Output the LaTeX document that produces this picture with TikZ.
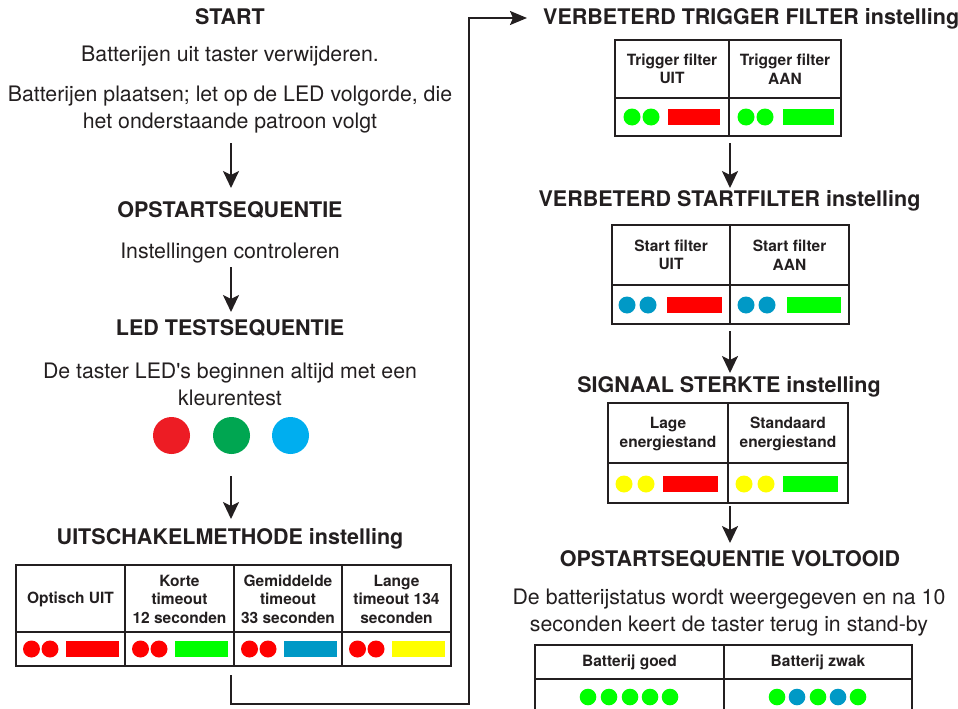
\documentclass[tikz,border=0pt]{standalone}
\usepackage{fontspec}
\setmainfont{TeX Gyre Heros}
\usetikzlibrary{arrows.meta}

\definecolor{ink}{HTML}{231F20}
\definecolor{ledred}{HTML}{FF0000}
\definecolor{ledgreen}{HTML}{00FF00}
\definecolor{ledblue}{HTML}{0099C6}
\definecolor{ledyellow}{HTML}{FFFF00}
\definecolor{testred}{HTML}{ED1C24}
\definecolor{testgreen}{HTML}{00A651}
\definecolor{testblue}{HTML}{00AEEF}

% straight apostrophe, set as a glyph so the TeX quote mapping leaves it alone
\newcommand\straightquote{\XeTeXglyph\XeTeXcharglyph"0027\relax}

% two LED dots followed by a bar: dot1 x, dot2 x, row y, dot colour, bar left, bar right, bar colour
\newcommand\ledcell[7]{%
  \fill[#4] (#1,#3) circle[radius=8.5];
  \fill[#4] (#2,#3) circle[radius=8.5];
  \fill[#7] (#5,{#3-8}) rectangle (#6,{#3+8});
}

\begin{document}
\begin{tikzpicture}[x=1pt,y=-1pt,
  hdr/.style={font=\fontsize{21.5}{25}\selectfont\bfseries, text=ink, inner sep=0pt, anchor=base},
  body/.style={font=\fontsize{21.3}{26.5}\selectfont, text=ink, inner sep=0pt, anchor=base, align=center},
  celltext/.style={font=\fontsize{15.5}{18.5}\selectfont\bfseries, text=ink, inner sep=0pt, align=center},
  gridline/.style={draw=ink, line width=1.8pt},
  flow/.style={draw=ink, line width=2.5pt, -{Stealth[length=17pt,width=16pt,inset=4pt]}},
  loopline/.style={draw=ink, line width=2pt, -{Stealth[length=17pt,width=14pt,inset=3pt]}},
  testled/.style={circle, inner sep=0pt, minimum size=37pt}]

\useasboundingbox (0,0) rectangle (958,709);

% ---------------- left column ----------------
% (multi-line nodes sit on the baseline of their last line)
\node[hdr] (start) at (230,25) {START};
\node[body] (remove) at (230,62) {Batterijen uit taster verwijderen.};
\node[body] (insert) at (230,128) {Batterijen plaatsen; let op de LED volgorde, die\\het onderstaande patroon volgt};

\coordinate (a1s) at (231,143); \coordinate (a1e) at (231,188);
\draw[flow] (a1s) -- (a1e);

\node[hdr] (boot) at (230,217) {OPSTARTSEQUENTIE};
\node[body] (check) at (230,258) {Instellingen controleren};

\coordinate (a2s) at (231,267); \coordinate (a2e) at (231,312);
\draw[flow] (a2s) -- (a2e);

\node[hdr] (ledtest) at (230,335) {LED TESTSEQUENTIE};
\node[body] (colortest) at (230,405) {De taster LED\straightquote s beginnen altijd met een\\kleurentest};

\node[testled, fill=testred] (tred) at (171.5,435.5) {};
\node[testled, fill=testgreen] (tgreen) at (231.5,435.5) {};
\node[testled, fill=testblue] (tblue) at (290.5,435.5) {};

\coordinate (a3s) at (231,476); \coordinate (a3e) at (231,519);
\draw[flow] (a3s) -- (a3e);

\node[hdr] (shutoff) at (230,544) {UITSCHAKELMETHODE instelling};

% shut-off method table
\draw[gridline] (16,565) rectangle (451,666);
\draw[gridline] (16,632) -- (451,632);
\foreach \x in {125,234,342} \draw[gridline] (\x,565) -- (\x,666);
\node[celltext] (so1) at (70.5,599) {Optisch UIT};
\node[celltext] (so2) at (179.5,599) {Korte\\timeout\\12 seconden};
\node[celltext] (so3) at (288,599) {Gemiddelde\\timeout\\33 seconden};
\node[celltext] (so4) at (396.5,599) {Lange\\timeout 134\\seconden};
\ledcell{31.5}{50}{649}{ledred}{66}{119}{ledred}
\ledcell{140.5}{159}{649}{ledred}{175}{228}{ledgreen}
\ledcell{249.5}{268}{649}{ledred}{284}{337}{ledblue}
\ledcell{357.5}{376}{649}{ledred}{392}{445}{ledyellow}

% return path to the right column
\coordinate (loopstart) at (231,675);
\coordinate (loopend) at (527,18);
\draw[loopline] (loopstart) -- (231,704) -- (469,704) -- (469,18) -- (loopend);

% ---------------- right column ----------------
\node[hdr, anchor=base west] (trig) at (543,25) {VERBETERD TRIGGER FILTER instelling};

\draw[gridline] (615,40) rectangle (841,136);
\draw[gridline] (615,98) -- (841,98);
\draw[gridline] (729,40) -- (729,136);
\node[celltext] (tr1) at (672,69) {Trigger filter\\UIT};
\node[celltext] (tr2) at (785,69) {Trigger filter\\AAN};
\ledcell{632}{651}{117}{ledgreen}{668}{720}{ledred}
\ledcell{746}{765}{117}{ledgreen}{783}{834}{ledgreen}

\coordinate (a4s) at (730,143); \coordinate (a4e) at (730,188);
\draw[flow] (a4s) -- (a4e);

\node[hdr] (startf) at (729.5,206) {VERBETERD STARTFILTER instelling};

\draw[gridline] (612,225) rectangle (849,324);
\draw[gridline] (612,285) -- (849,285);
\draw[gridline] (730,225) -- (730,324);
\node[celltext] (sf1) at (671,255) {Start filter\\UIT};
\node[celltext] (sf2) at (789.5,255) {Start filter\\AAN};
\ledcell{627}{648}{305}{ledblue}{667}{722}{ledred}
\ledcell{746}{767}{305}{ledblue}{787}{841}{ledgreen}

\coordinate (a5s) at (730,331); \coordinate (a5e) at (730,373);
\draw[flow] (a5s) -- (a5e);

\node[hdr] (signal) at (729,392) {SIGNAAL STERKTE instelling};

\draw[gridline] (608,403) rectangle (848,503);
\draw[gridline] (608,463) -- (848,463);
\draw[gridline] (728,403) -- (728,503);
\node[celltext] (sg1) at (668,434) {Lage\\energiestand};
\node[celltext] (sg2) at (788,434) {Standaard\\energiestand};
\ledcell{624}{646}{484}{ledyellow}{663}{718}{ledred}
\ledcell{744}{766}{484}{ledyellow}{783}{838}{ledgreen}

\coordinate (a6s) at (730,506); \coordinate (a6e) at (730,543);
\draw[flow] (a6s) -- (a6e);

\node[hdr] (done) at (730,566) {OPSTARTSEQUENTIE VOLTOOID};
\node[body] (status) at (729,631) {De batterijstatus wordt weergegeven en na 10\\seconden keert de taster terug in stand-by};

% battery status table (runs past the lower edge)
\draw[gridline] (535,645) rectangle (912,725);
\draw[gridline] (535,679) -- (912,679);
\draw[gridline] (724,645) -- (724,725);
\node[celltext] (bt1) at (629.5,662) {Batterij goed};
\node[celltext] (bt2) at (818,662) {Batterij zwak};
\foreach \x in {588,609,630,650,670} \fill[ledgreen] (\x,697) circle[radius=8.3];
\foreach \x/\c in {777/ledgreen,797/ledblue,818/ledgreen,838/ledblue,858/ledgreen} \fill[\c] (\x,697) circle[radius=8.3];

\end{tikzpicture}
\end{document}
